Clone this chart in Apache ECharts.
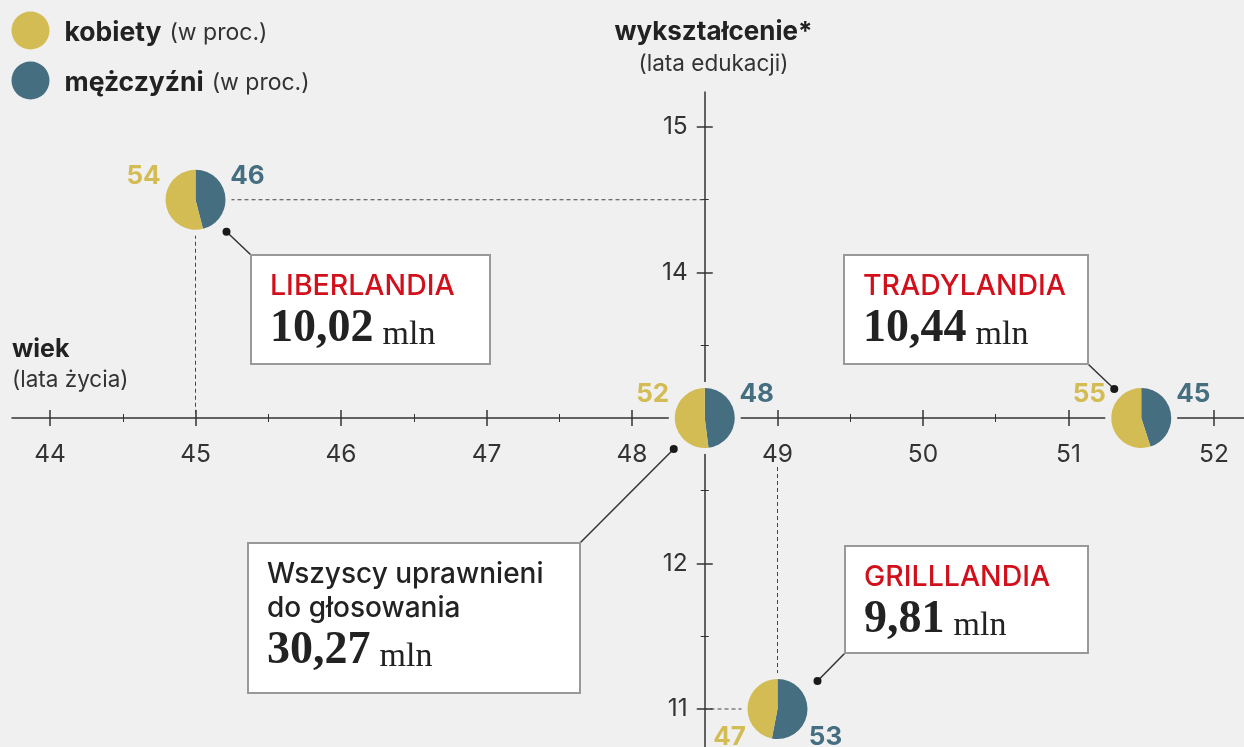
<!DOCTYPE html>
<html>
<head>
<meta charset="utf-8">
<script src="https://cdn.jsdelivr.net/npm/echarts@6/dist/echarts.min.js"></script>
<style>
html,body{margin:0;padding:0;background:#f0f0f0;}
#c{width:1244px;height:747px;}
</style>
</head>
<body>
<div id="c"></div>
<script>
// ---------------- DATA ----------------
const groups      = ['LIBERLANDIA', 'TRADYLANDIA', 'GRILLLANDIA', 'Wszyscy uprawnieni\ndo głosowania'];
const isTotal     = [false, false, false, true];
const ages        = [45, 51.5, 49, 48.5];      // wiek (lata życia)
const education   = [14.5, 13, 11, 13];        // wykształcenie (lata edukacji)
const womenPct    = [54, 55, 47, 52];          // kobiety (w proc.)
const menPct      = [46, 45, 53, 48];          // mężczyźni (w proc.)
const voters      = ['10,02', '10,44', '9,81', '30,27']; // mln
const xTicks      = [44, 45, 46, 47, 48, 49, 50, 51, 52];
const xMinorTicks = [44.5, 45.5, 46.5, 47.5, 48.5, 49.5, 50.5, 51.5];
const yTicks      = [11, 12, 13, 14, 15];
const yLabels     = [11, 12, 14, 15];
const yMinorTicks = [11.5, 12.5, 13.5, 14.5];

// ---------------- STYLE / LAYOUT ----------------
const BG = '#f0f0f0', INK = '#222', AXIS = '#333', YELLOW = '#d4bc54', BLUE = '#456e80', RED = '#d2101c';
const SANS = 'Inter, Roboto, sans-serif';
const SERIF = '"Liberation Serif", "Times New Roman", serif';
const X_CROSS = 48.5, Y_CROSS = 13;          // where the axes cross
const GRID = {left: 12, top: 92, width: 1232, height: 655};
const xRange = [43.7388, 52.2062];
const yRange = [10.7388, 15.2405];
const xAt = v => GRID.left + (v - xRange[0]) / (xRange[1] - xRange[0]) * GRID.width;
const yAt = v => GRID.top + (yRange[1] - v) / (yRange[1] - yRange[0]) * GRID.height;
const axisY = yAt(Y_CROSS), axisX = xAt(X_CROSS);
const MAJOR = 8, MINOR = 4, LABEL_CLEAR = 0.33;

const CALLOUTS = [
  {box: [251, 255, 239, 109], corner: 'tl', dot: [31, 32]},
  {box: [844, 255, 244, 109], corner: 'br', dot: [-27, -29]},
  {box: [845, 546, 243, 107], corner: 'bl', dot: [40, -28]},
  {box: [248, 543, 332, 150], corner: 'tr', dot: [-31, 31]}
];

const chart = echarts.init(document.getElementById('c'), null, {renderer: 'canvas'});

const grids = [
  {left: GRID.left, top: GRID.top, width: GRID.width, height: GRID.height},            // 0 data
  {left: GRID.left, top: GRID.top, width: GRID.width, height: axisY - GRID.top},       // 1 x line + labels
  {left: GRID.left, top: GRID.top, width: GRID.width, height: axisY - MAJOR - GRID.top}, // 2 x major ticks
  {left: GRID.left, top: GRID.top, width: GRID.width, height: axisY - MINOR - GRID.top}, // 3 x minor ticks
  {left: axisX, top: GRID.top, width: 60, height: GRID.height},                          // 4 y line + labels
  {left: axisX + MAJOR, top: GRID.top, width: 60, height: GRID.height},                  // 5 y major ticks
  {left: axisX + MINOR, top: GRID.top, width: 60, height: GRID.height}                   // 6 y minor ticks
].map(g => Object.assign(g, {show: false, containLabel: false, outerBoundsMode: 'none'}));

const lineSt = {color: AXIS, width: 1.5};
const baseAxis = (gridIndex, range) => ({
  type: 'value', gridIndex, min: range[0], max: range[1], show: false,
  splitLine: {show: false}, axisLine: {show: false, onZero: false}, axisTick: {show: false}, axisLabel: {show: false}
});
const xAxes = [0, 1, 2, 3, 4, 5, 6].map(i => baseAxis(i, xRange));
const yAxes = [0, 1, 2, 3, 4, 5, 6].map(i => baseAxis(i, yRange));
// x axis
Object.assign(xAxes[1], {show: true, position: 'bottom',
  axisLine: {show: true, onZero: false, lineStyle: lineSt},
  axisLabel: {show: true, customValues: xTicks, margin: 24, color: '#333', fontFamily: SANS, fontSize: 24.5}});
Object.assign(xAxes[2], {show: true, position: 'bottom',
  axisTick: {show: true, customValues: xTicks, length: MAJOR * 2, lineStyle: lineSt}});
Object.assign(xAxes[3], {show: true, position: 'bottom',
  axisTick: {show: true, customValues: xMinorTicks, length: MINOR * 2, lineStyle: {color: AXIS, width: 1}}});
// y axis
Object.assign(yAxes[4], {show: true, position: 'left',
  axisLine: {show: true, onZero: false, lineStyle: lineSt},
  axisLabel: {show: true, customValues: yLabels, margin: 17, color: '#333', fontFamily: SANS, fontSize: 24.5}});
Object.assign(yAxes[5], {show: true, position: 'left',
  axisTick: {show: true, customValues: yTicks, length: MAJOR * 2, lineStyle: lineSt}});
Object.assign(yAxes[6], {show: true, position: 'left',
  axisTick: {show: true, customValues: yMinorTicks, length: MINOR * 2, lineStyle: {color: AXIS, width: 1}}});

// ---------------- SERIES ----------------
const points = ages.map((a, i) => [a, education[i]]);

// dashed guide lines from points to the axes
const guideSeries = [];
points.forEach((p, i) => {
  const onX = p[1] === Y_CROSS, onY = p[0] === X_CROSS;
  if (onX || onY) return;
  const yEnd = p[1] < Y_CROSS ? Y_CROSS - LABEL_CLEAR : Y_CROSS;
  [[p, [X_CROSS, p[1]]], [p, [p[0], yEnd]]].forEach(seg => guideSeries.push({
    type: 'line', xAxisIndex: 0, yAxisIndex: 0, data: seg, symbol: 'none', silent: true, z: 1,
    lineStyle: {color: '#444', width: 1, type: [4, 3]}
  }));
});

const gapSeries = {
  type: 'scatter', id: 'gap', xAxisIndex: 0, yAxisIndex: 0, data: points, symbol: 'circle', symbolSize: 72,
  itemStyle: {color: BG, borderWidth: 0, opacity: 1}, silent: true, z: 3, emphasis: {disabled: true}
};

const pieSeries = groups.map((g, i) => ({
  type: 'pie', id: 'pie' + i, name: g, radius: 30, center: [0, 0], startAngle: 90, clockwise: true,
  silent: true, z: 4, label: {show: false}, labelLine: {show: false}, emphasis: {disabled: true},
  itemStyle: {borderWidth: 0},
  data: [
    {name: 'mężczyźni', value: menPct[i], itemStyle: {color: BLUE}},
    {name: 'kobiety', value: womenPct[i], itemStyle: {color: YELLOW}}
  ]
}));

const pctLabel = (vals, color, side) => ({
  type: 'scatter', xAxisIndex: 0, yAxisIndex: 0, symbol: 'circle', symbolSize: 1, silent: true, z: 5,
  itemStyle: {color: 'rgba(0,0,0,0)', opacity: 1}, emphasis: {disabled: true},
  data: points.map((p, i) => ({
    value: p,
    label: {offset: p[1] < Y_CROSS ? [side * 48, 28] : [side * 52, -24]}
  })),
  label: {show: true, position: 'inside', formatter: d => String(vals[d.dataIndex]),
    color, opacity: 1, textBorderWidth: 0, fontFamily: SANS, fontWeight: 'bold', fontSize: 26}
});

const option = {
  backgroundColor: BG,
  animation: false,
  grid: grids,
  xAxis: xAxes,
  yAxis: yAxes,
  legend: {
    data: ['kobiety', 'mężczyźni'], orient: 'vertical', left: 11.5, top: 11.5, padding: 0,
    icon: 'circle', itemWidth: 38, itemHeight: 38, itemGap: 12, selectedMode: false,
    itemStyle: {borderWidth: 0},
    formatter: n => `{b|${n}}{r|(w proc.)}`,
    textStyle: {rich: {
      b: {fontFamily: SANS, fontWeight: 'bold', fontSize: 26.5, color: INK, padding: [5, 0, 0, 10]},
      r: {fontFamily: SANS, fontSize: 23, color: '#333', padding: [5, 0, 0, 8]}
    }}
  },
  series: [...guideSeries, gapSeries, ...pieSeries, pctLabel(womenPct, YELLOW, -1), pctLabel(menPct, BLUE, 1)]
};
chart.setOption(option);

// ---------------- ANNOTATIONS ----------------
const tY = (baseline, fs) => baseline - 0.8637 * fs; // top y for Inter text with lineHeight = fs
function sansText(x, baseline, text, fs, opts) {
  return Object.assign({type: 'text', x, y: tY(baseline, fs), z: 60, silent: true,
    style: Object.assign({text, fontFamily: SANS, fontSize: fs, lineHeight: fs, fill: INK, verticalAlign: 'top', align: 'left'}, opts || {})});
}
function numberText(x, baseline, num) {
  return {type: 'text', x, y: baseline + 7.5, z: 60, silent: true,
    style: {text: `{n|${num}}{u|mln}`, verticalAlign: 'bottom', align: 'left',
      rich: {
        n: {fontFamily: SERIF, fontWeight: 'bold', fontSize: 46, lineHeight: 46, fill: INK, verticalAlign: 'bottom'},
        u: {fontFamily: SERIF, fontSize: 34, lineHeight: 38.3, fill: INK, verticalAlign: 'bottom', padding: [0, 0, 0, 9]}
      }}};
}

function annotations() {
  const centers = points.map(p => chart.convertToPixel({xAxisIndex: 0, yAxisIndex: 0}, p));
  const els = [
    sansText(713.5, 42, 'wykształcenie*', 26, {fontWeight: 'bold', align: 'center'}),
    sansText(713.5, 72, '(lata edukacji)', 22.5, {align: 'center', fill: '#333'}),
    sansText(12, 359, 'wiek', 25, {fontWeight: 'bold'}),
    sansText(12, 388, '(lata życia)', 22.5, {fill: '#333'})
  ];
  CALLOUTS.forEach((c, i) => {
    const [bx, by, bw, bh] = c.box;
    const dx = centers[i][0] + c.dot[0], dy = centers[i][1] + c.dot[1];
    const corner = {tl: [bx, by], tr: [bx + bw, by], bl: [bx, by + bh], br: [bx + bw, by + bh]}[c.corner];
    els.push({type: 'line', z: 50, silent: true, shape: {x1: dx, y1: dy, x2: corner[0], y2: corner[1]},
      style: {stroke: '#333', lineWidth: 1.5}});
    els.push({type: 'circle', z: 51, silent: true, shape: {cx: dx, cy: dy, r: 4}, style: {fill: '#1a1a1a'}});
    els.push({type: 'rect', z: 52, silent: true, shape: {x: bx, y: by, width: bw, height: bh},
      style: {fill: '#fff', stroke: '#999', lineWidth: 2}});
    if (isTotal[i]) {
      const fs = 28, lh = 34;
      els.push({type: 'text', x: bx + 19, y: by + 42 - lh / 2 - 0.3637 * fs, z: 60, silent: true,
        style: {text: groups[i], fontFamily: SANS, fontWeight: 500, fontSize: fs, lineHeight: lh, fill: INK, verticalAlign: 'top'}});
      els.push(numberText(bx + 19, by + 124, voters[i]));
    } else {
      els.push(sansText(bx + 19, by + 42, groups[i], 28.5, {fill: RED, fontWeight: 500}));
      els.push(numberText(bx + 19, by + 90, voters[i]));
    }
  });
  chart.setOption({
    series: pieSeries.map((s, i) => ({id: s.id, center: centers[i]})),
    graphic: {elements: els}
  });
}
annotations();
</script>
</body>
</html>
